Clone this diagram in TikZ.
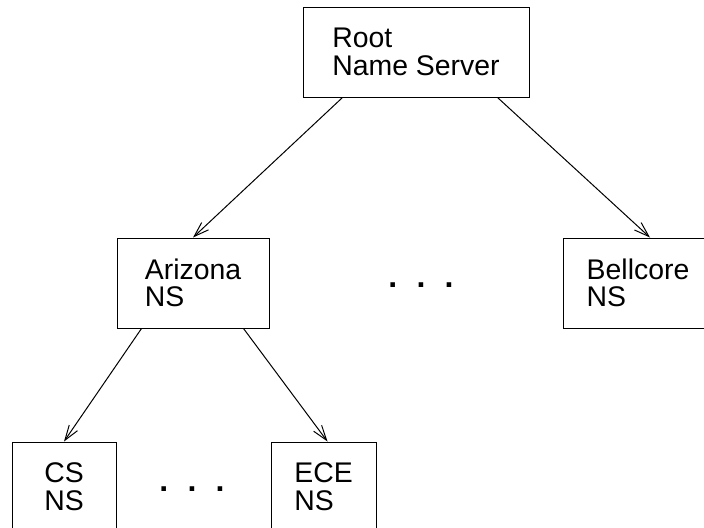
\documentclass[tikz,border=0pt]{standalone}
\usepackage{fontspec}
\setmainfont{Liberation Sans}
\usetikzlibrary{arrows.meta,positioning}

\begin{document}
\begin{tikzpicture}[x=0.5pt,y=-0.5pt,
  ns/.style={draw,rectangle,line width=0.5pt,minimum height=45pt,align=left,
             font=\fontsize{14.2}{13.8}\selectfont},
  link/.style={line width=0.5pt,-{Straight Barb[length=7.5pt,width=5pt]}},
  dots/.style={font=\fontsize{16}{16}\selectfont\bfseries,inner sep=0pt}]
  \useasboundingbox (0,0) rectangle (704,527);
  % root level
  \node[ns,minimum width=113pt] (root) at (416,52) {Root\\Name Server};
  % second level
  \node[ns,minimum width=76pt] (arizona) at (193,283) {Arizona\\NS};
  \node[dots] (dotsmid) at (421,285) {.\hspace{9.6pt}.\hspace{9.6pt}.};
  \node[ns,minimum width=75pt] (bellcore) at (638,283) {Bellcore\\NS};
  % third level
  \node[ns,minimum width=52pt] (cs) at (64,487) {CS\\NS};
  \node[dots] (dotslow) at (192,489) {.\hspace{9.6pt}.\hspace{9.6pt}.};
  \node[ns,minimum width=52.5pt] (ece) at (323.5,487) {ECE\\NS};
  % links
  \draw[link] ([xshift=20pt]root.south west) -- (arizona.north);
  \draw[link] ([xshift=-16pt]root.south east) -- ([xshift=6pt]bellcore.north);
  \draw[link] ([xshift=12.5pt]arizona.south west) -- (cs.north);
  \draw[link] ([xshift=-13pt]arizona.south east) -- ([xshift=2pt]ece.north);
\end{tikzpicture}
\end{document}
